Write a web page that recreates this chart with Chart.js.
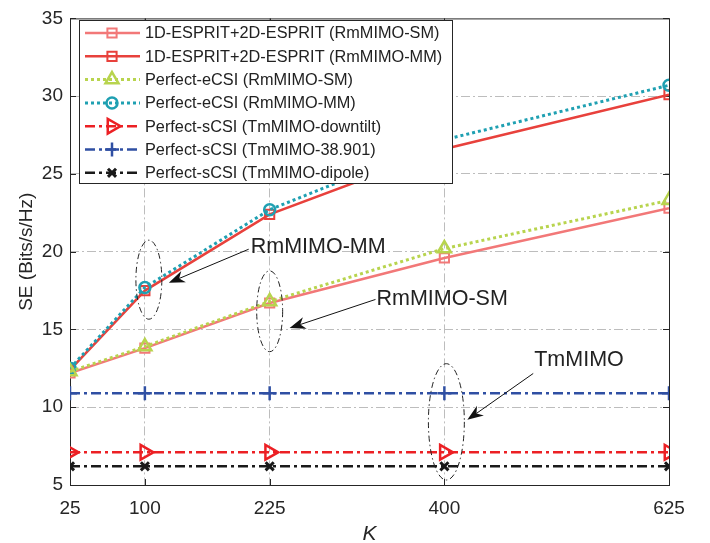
<!DOCTYPE html>
<html>
<head>
<meta charset="utf-8">
<script src="https://cdn.jsdelivr.net/npm/chart.js@4.4.1/dist/chart.umd.min.js"></script>
<style>
  html, body { margin: 0; padding: 0; background: #fff; }
  canvas { display: block; }
</style>
</head>
<body>
<canvas id="seChart" width="710" height="543"></canvas>
<script>
// Значения
const kValues = [25, 100, 225, 400, 625];
const seriesNames = [
  '1D-ESPRIT+2D-ESPRIT (RmMIMO-SM)',
  '1D-ESPRIT+2D-ESPRIT (RmMIMO-MM)',
  'Perfect-eCSI (RmMIMO-SM)',
  'Perfect-eCSI (RmMIMO-MM)',
  'Perfect-sCSI (TmMIMO-downtilt)',
  'Perfect-sCSI (TmMIMO-38.901)',
  'Perfect-sCSI (TmMIMO-dipole)',
];
const espritSM = [12.2, 13.8, 16.7, 19.6, 22.8];
const espritMM = [12.4, 17.5, 22.4, 26.6, 30.1];
const perfectSM = [12.3, 13.9, 16.8, 20.2, 23.3];
const perfectMM = [12.5, 17.7, 22.7, 27.2, 30.7];
const tmDowntilt = [7.1, 7.1, 7.1, 7.1, 7.1];
const tm38901 = [10.9, 10.9, 10.9, 10.9, 10.9];
const tmDipole = [6.2, 6.2, 6.2, 6.2, 6.2];

const FONT = '"Liberation Sans", Arial, Helvetica, sans-serif';
const AXIS_COLOR = '#262626';
const DASH_DOT = [10, 4, 3, 4];

const toPoints = (values) => values.map((v, i) => ({ x: kValues[i], y: v }));

// Стили серий (порядок как в легенде)
const styles = [
  { color: '#f27878', dash: [], width: 2.5, point: 'rect', radius: 6.5, pw: 2, order: 3 },
  { color: '#e8413c', dash: [], width: 2.5, point: 'rect', radius: 6.5, pw: 2, order: 3 },
  { color: '#b8d44e', dash: [3, 3], width: 3, point: 'triangle', radius: 7.5, pw: 2.5, order: 2 },
  { color: '#1fa0b2', dash: [3, 3], width: 3, point: 'circle', radius: 5.5, pw: 2.5, order: 2 },
  { color: '#ec2024', dash: DASH_DOT, width: 2.5, point: 'triangle', radius: 8.5, pw: 2.5, rot: 90, order: 1 },
  { color: '#2f4fa3', dash: DASH_DOT, width: 2.5, point: 'cross', radius: 7, pw: 2.5, order: 1 },
  { color: '#1a1a1a', dash: DASH_DOT, width: 2.5, point: 'crossRot', radius: 5.7, pw: 3, order: 1 },
];
const seriesValues = [espritSM, espritMM, perfectSM, perfectMM, tmDowntilt, tm38901, tmDipole];

const datasets = seriesValues.map((values, i) => {
  const s = styles[i];
  return {
    label: seriesNames[i],
    data: toPoints(values),
    borderColor: s.color,
    borderWidth: s.width,
    borderDash: s.dash,
    borderCapStyle: 'butt',
    tension: 0,
    fill: false,
    order: s.order,
    pointStyle: s.point,
    pointRadius: s.radius,
    pointBorderWidth: s.pw,
    pointBorderColor: s.color,
    pointBackgroundColor: 'rgba(0,0,0,0)',
    pointRotation: s.rot || 0,
  };
});

function drawMarker(ctx, s, x, y) {
  ctx.save();
  ctx.setLineDash([]);
  ctx.strokeStyle = s.color;
  ctx.fillStyle = 'rgba(0,0,0,0)';
  ctx.lineWidth = s.pw;
  Chart.helpers.drawPoint(ctx, {
    pointStyle: s.point, radius: s.radius, rotation: s.rot || 0, borderWidth: s.pw,
  }, x, y);
  ctx.restore();
}

function drawArrow(ctx, x1, y1, x2, y2) {
  const ang = Math.atan2(y2 - y1, x2 - x1);
  const len = 16, w = 6;
  ctx.beginPath();
  ctx.moveTo(x1, y1);
  ctx.lineTo(x2 - Math.cos(ang) * len * 0.7, y2 - Math.sin(ang) * len * 0.7);
  ctx.stroke();
  ctx.save();
  ctx.translate(x2, y2);
  ctx.rotate(ang);
  ctx.beginPath();
  ctx.moveTo(0, 0);
  ctx.lineTo(-len, -w);
  ctx.lineTo(-len * 0.7, 0);
  ctx.lineTo(-len, w);
  ctx.closePath();
  ctx.fill();
  ctx.restore();
}

// Рамка осей, засечки внутрь, аннотации и легенда
const matlabLook = {
  id: 'matlabLook',
  beforeDatasetsDraw(chart) {
    const { ctx, chartArea: a, scales } = chart;
    ctx.save();
    ctx.strokeStyle = AXIS_COLOR;
    ctx.lineWidth = 1;
    ctx.setLineDash([]);
    ctx.strokeRect(a.left + 0.5, a.top + 0.5, a.right - a.left, a.bottom - a.top);
    ctx.beginPath();
    scales.x.ticks.forEach((t) => {
      const x = Math.round(scales.x.getPixelForValue(t.value)) + 0.5;
      ctx.moveTo(x, a.bottom); ctx.lineTo(x, a.bottom - 6);
      ctx.moveTo(x, a.top); ctx.lineTo(x, a.top + 6);
    });
    scales.y.ticks.forEach((t) => {
      const y = Math.round(scales.y.getPixelForValue(t.value)) + 0.5;
      ctx.moveTo(a.left, y); ctx.lineTo(a.left + 6, y);
      ctx.moveTo(a.right, y); ctx.lineTo(a.right - 6, y);
    });
    ctx.stroke();
    ctx.restore();
  },
  afterDatasetsDraw(chart) {
    const { ctx, scales } = chart;
    const X = (k) => scales.x.getPixelForValue(k);
    const Y = (v) => scales.y.getPixelForValue(v);

    ctx.save();
    // эллипсы
    ctx.strokeStyle = '#222';
    ctx.lineWidth = 1;
    ctx.setLineDash([6, 3, 1.5, 3]);
    [[104, 18.2, 13, 2.54], [225, 16.17, 13, 2.6], [402, 9.06, 18, 3.74]].forEach(([k, v, rk, rv]) => {
      ctx.beginPath();
      ctx.ellipse(X(k), Y(v), X(k + rk) - X(k), Y(v) - Y(v + rv), 0, 0, Math.PI * 2);
      ctx.stroke();
    });
    // стрелки
    ctx.setLineDash([]);
    ctx.fillStyle = '#111';
    ctx.strokeStyle = '#111';
    drawArrow(ctx, X(204), Y(20.16), X(124), Y(18.0));
    drawArrow(ctx, X(331), Y(16.93), X(245), Y(15.09));
    drawArrow(ctx, X(489), Y(12.17), X(423), Y(9.19));
    // подписи
    ctx.fillStyle = '#222';
    ctx.font = '21.5px ' + FONT;
    ctx.textBaseline = 'middle';
    ctx.textAlign = 'left';
    ctx.fillText('RmMIMO-MM', X(206), Y(20.3));
    ctx.fillText('RmMIMO-SM', X(332), Y(16.93));
    ctx.fillText('TmMIMO', X(490), Y(13.06));

    // легенда
    const lx = 79, ly = 20, lw = 373, lh = 163, rowH = 23.3;
    ctx.fillStyle = '#fff';
    ctx.fillRect(lx, ly, lw, lh);
    ctx.strokeStyle = AXIS_COLOR;
    ctx.lineWidth = 1;
    ctx.strokeRect(lx + 0.5, ly + 0.5, lw, lh);
    ctx.font = '16.3px ' + FONT;
    seriesNames.forEach((name, i) => {
      const s = styles[i];
      const y = ly + 13 + i * rowH;
      ctx.save();
      ctx.strokeStyle = s.color;
      ctx.lineWidth = s.width;
      ctx.setLineDash(s.dash);
      ctx.beginPath();
      ctx.moveTo(lx + 6, y);
      ctx.lineTo(lx + 61, y);
      ctx.stroke();
      ctx.restore();
      drawMarker(ctx, s, lx + 33, y);
      ctx.fillStyle = '#222';
      ctx.fillText(name, lx + 66, y + 1);
    });
    ctx.restore();
  },
};

const gridColor = (min, max) => (c) =>
  c.tick && (c.tick.value === min || c.tick.value === max) ? 'rgba(0,0,0,0)' : '#bdbdbd';

new Chart(document.getElementById('seChart').getContext('2d'), {
  type: 'line',
  data: { datasets },
  options: {
    responsive: false,
    animation: false,
    layout: { padding: { left: 0, right: 41, top: 12, bottom: 0 } },
    plugins: { legend: { display: false }, tooltip: { enabled: false } },
    scales: {
      x: {
        type: 'linear',
        min: 25,
        max: 625,
        afterBuildTicks: (s) => { s.ticks = kValues.map((v) => ({ value: v })); },
        afterFit: (s) => { s.height = 58; },
        grid: { color: gridColor(25, 625), lineWidth: 1, drawTicks: false },
        border: { display: false, dash: [9, 3, 2, 3] },
        ticks: { autoSkip: false, maxRotation: 0, padding: 12, color: AXIS_COLOR, font: { family: FONT, size: 19 } },
        title: {
          display: true, text: 'K', color: AXIS_COLOR, padding: { top: 0, bottom: -2 },
          font: { family: FONT, size: 21, style: 'italic', lineHeight: 1 },
        },
      },
      y: {
        min: 5,
        max: 35,
        afterFit: (s) => { s.width = 70; },
        grid: { color: gridColor(5, 35), lineWidth: 1, drawTicks: false },
        border: { display: false, dash: [9, 3, 2, 3] },
        ticks: { stepSize: 5, padding: 7, color: AXIS_COLOR, font: { family: FONT, size: 19 } },
        title: {
          display: true, text: 'SE (Bits/s/Hz)', color: AXIS_COLOR, padding: { top: 15, bottom: 0 },
          font: { family: FONT, size: 19 },
        },
      },
    },
  },
  plugins: [matlabLook],
});
</script>
</body>
</html>
